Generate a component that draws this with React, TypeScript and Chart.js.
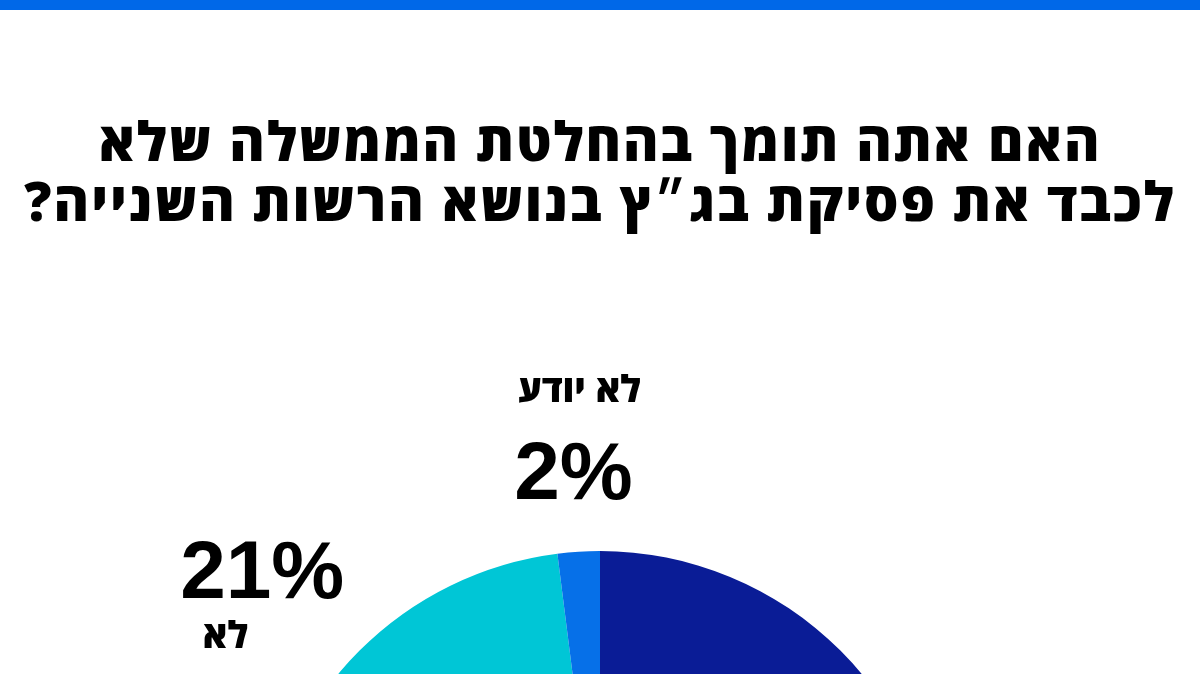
import { useEffect, useRef } from "react";
import Chart from "chart.js/auto";

const labels = ["כן", "לא", "לא יודע"];
const values = [77, 21, 2];
const colors = ["#0a1c96", "#00c6d6", "#0670e8"];

const titleLines = [
  "האם אתה תומך בהחלטת הממשלה שלא",
  "לכבד את פסיקת בג״ץ בנושא הרשות השנייה?",
];

// per-slice label placement: distance beyond outer radius, nudge of the percent, and name offset from the percent
const labelOffsets = [90, 125, 82];
const pctShift = [
  { dx: 0, dy: 0 },
  { dx: -9, dy: 6 },
  { dx: 0, dy: 0 },
];
const nameShift = [
  { dx: 0, dy: 70 },
  { dx: -37, dy: 68 },
  { dx: 6, dy: -80 },
];

const sliceLabels = {
  id: "sliceLabels",
  afterDatasetsDraw(chart: Chart) {
    const ctx = chart.ctx;
    const meta = chart.getDatasetMeta(0);
    ctx.save();
    ctx.fillStyle = "#000";
    ctx.textAlign = "center";
    ctx.direction = "rtl";
    meta.data.forEach((arc: any, i: number) => {
      const { x, y, startAngle, endAngle, outerRadius } = arc.getProps(
        ["x", "y", "startAngle", "endAngle", "outerRadius"],
        true
      );
      const mid = (startAngle + endAngle) / 2;
      const d = outerRadius + labelOffsets[i];
      const cx = x + Math.cos(mid) * d + pctShift[i].dx;
      const cy = y + Math.sin(mid) * d + pctShift[i].dy;
      const pSize = 82;
      ctx.font = `bold ${pSize}px "Liberation Sans", Arial, sans-serif`;
      ctx.fillText(`${values[i]}%`, cx, cy + pSize * 0.358);
      ctx.font = `800 37px "Open Sans", sans-serif`;
      ctx.fillText(labels[i], cx + nameShift[i].dx, cy + nameShift[i].dy + 12);
    });
    ctx.restore();
  },
};

export default function App() {
  const canvasRef = useRef<HTMLCanvasElement>(null);

  useEffect(() => {
    document.body.style.margin = "0";
    if (!canvasRef.current) return;
    const chart = new Chart(canvasRef.current, {
      type: "pie",
      data: {
        labels,
        datasets: [
          {
            data: values,
            backgroundColor: colors,
            borderWidth: 0,
          },
        ],
      },
      options: {
        responsive: true,
        maintainAspectRatio: false,
        animation: false,
        layout: { padding: { top: 551, bottom: 0, left: 0, right: 0 } },
        plugins: {
          legend: { display: false },
          tooltip: { enabled: false },
        },
      },
      plugins: [sliceLabels],
    });
    return () => chart.destroy();
  }, []);

  return (
    <div
      style={{
        position: "absolute",
        left: 0,
        top: 0,
        width: 1200,
        height: 674,
        overflow: "hidden",
        background: "#fff",
      }}
    >
      <div style={{ position: "absolute", left: 0, top: 0, width: 1200, height: 1231 }}>
        <canvas ref={canvasRef} />
      </div>
      <div style={{ position: "absolute", left: 0, top: 0, width: 1200, height: 10, background: "#0068e8" }} />
      <div
        dir="rtl"
        style={{
          position: "absolute",
          left: 0,
          top: 110,
          width: 1200,
          textAlign: "center",
          fontFamily: '"Open Sans", sans-serif',
          fontWeight: 800,
          fontSize: 54,
          letterSpacing: 2.0,
          lineHeight: "60px",
          color: "#000",
        }}
      >
        {titleLines.map((l, i) => (
          <div key={i}>{l}</div>
        ))}
      </div>
    </div>
  );
}
